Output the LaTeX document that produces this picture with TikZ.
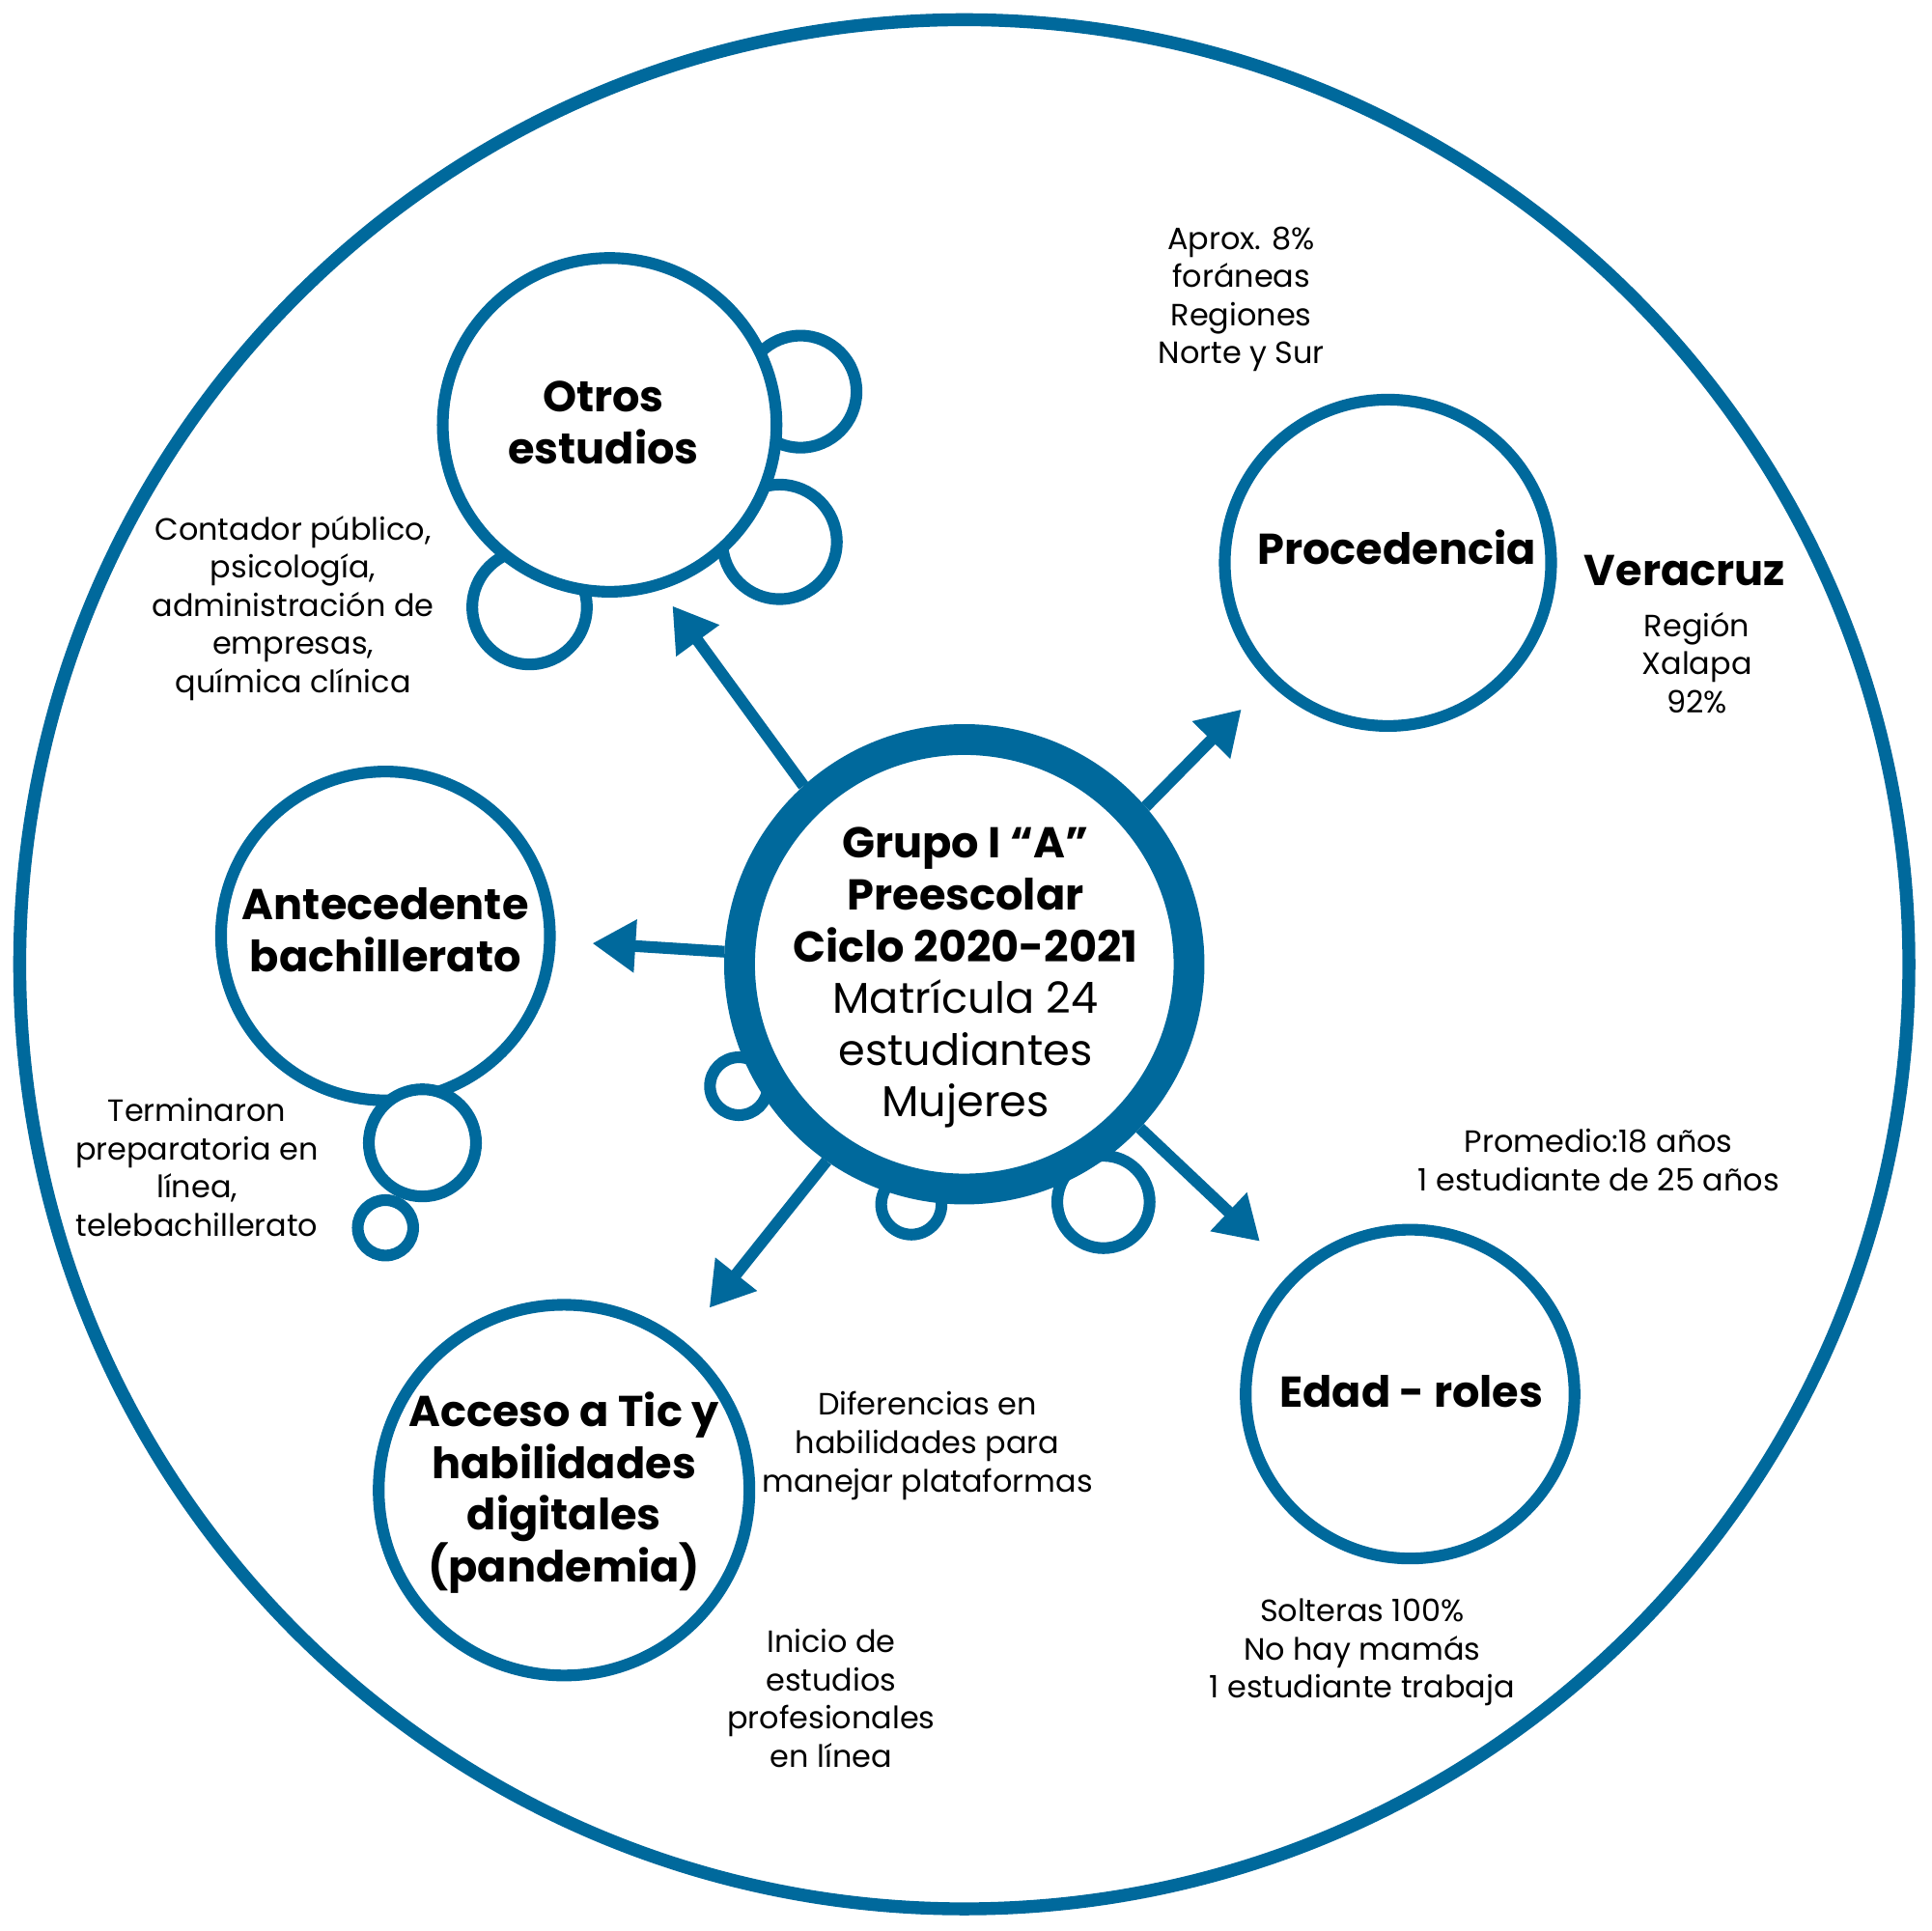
\documentclass[tikz,border=0pt]{standalone}
\usepackage{fontspec}
\setmainfont{Poppins}
\usetikzlibrary{arrows.meta}
\definecolor{azul}{HTML}{00699C}

\begin{document}
\begin{tikzpicture}[x=1pt,y=-1pt,
        globo/.style={circle,draw=azul,line width=9.5pt,fill=white,inner sep=0pt},
        titulo/.style={align=center,font=\bfseries\fontsize{35}{42}\selectfont},
        nota/.style={align=center,font=\fontsize{25}{31}\selectfont},
        flecha/.style={draw=azul,line width=9.5pt,-{Triangle[length=35pt,width=41pt]}}]
            \useasboundingbox (0,0) rectangle (1568,1568);
            \node[circle,draw=azul,line width=10.5pt,minimum size=1534pt] (marco) at (783,783) {};

            \node[globo,minimum size=91pt] (bo1) at (650,318) {};
            \node[globo,minimum size=93pt] (bo2) at (633,440) {};
            \node[globo,minimum size=93pt] (bo3) at (430,493) {};
            \node[globo,minimum size=271pt] (otros) at (495,345) {};

            \node[globo,minimum size=267pt] (ante) at (313,760) {};
            \node[globo,minimum size=87pt] (ba1) at (343,928) {};
            \node[globo,minimum size=45pt] (ba2) at (313,997) {};

            \node[globo,minimum size=47pt] (bg1) at (600,882) {};
            \node[globo,minimum size=49pt] (bg2) at (740,978) {};
            \node[globo,minimum size=75pt] (bg3) at (896,976) {};
            \node[globo,line width=25pt,minimum size=365pt] (grupo) at (783,783) {};

            \node[globo,minimum size=265pt] (proc) at (1127,457) {};
            \node[globo,minimum size=301pt] (acceso) at (458,1210) {};
            \node[globo,minimum size=267pt] (edad) at (1145,1132) {};

            \node[titulo] (tOtros) at (490,343) {Otros\\estudios};
            \node[titulo] (tAnte) at (313,755) {Antecedente\\bachillerato};
            \node[titulo] (tGrupo) at (784,794) {Grupo I “A”\\Preescolar\\Ciclo 2020-2021\\\mdseries Matrícula 24\\\mdseries estudiantes\\\mdseries Mujeres};
            \node[titulo] (tProc) at (1134,444) {Procedencia};
            \node[titulo] (tAcceso) at (458,1212) {Acceso a Tic y\\habilidades\\digitales\\(pandemia)};
            \node[titulo] (tEdad) at (1146,1130) {Edad - roles};

            \coordinate (pOtros) at (546,492);
            \coordinate (pProc) at (1008,576);
            \coordinate (pAnte) at (481,766);
            \coordinate (pAcceso) at (576,1062);
            \coordinate (pEdad) at (1023,1008);
            \draw[flecha] (grupo.132) -- (pOtros);
            \draw[flecha] (grupo.41) -- (pProc);
            \draw[flecha] (grupo.177) -- (pAnte);
            \draw[flecha] (grupo.235) -- (pAcceso);
            \draw[flecha] (grupo.317) -- (pEdad);

            \node[nota] (nAprox) at (1008,243) {Aprox. 8\%\\foráneas\\Regiones\\Norte y Sur};
            \node[titulo] (nVeracruz) at (1368,463) {Veracruz};
            \node[nota] (nRegion) at (1378,538) {Región\\Xalapa\\92\%};
            \node[nota] (nContador) at (238,494) {Contador público,\\psicología,\\administración de\\empresas,\\química clínica};
            \node[nota] (nTerminaron) at (160,948) {Terminaron\\preparatoria en\\línea,\\telebachillerato};
            \node[nota] (nPromedio) at (1298,942) {Promedio:18 años\\1 estudiante de 25 años};
            \node[nota] (nDiferencias) at (753,1174) {Diferencias en\\habilidades para\\manejar plataformas};
            \node[nota] (nInicio) at (675,1379) {Inicio de\\estudios\\profesionales\\en línea};
            \node[nota] (nSolteras) at (1106,1342) {Solteras 100\%\\No hay mamás\\1 estudiante trabaja};
\end{tikzpicture}
\end{document}
